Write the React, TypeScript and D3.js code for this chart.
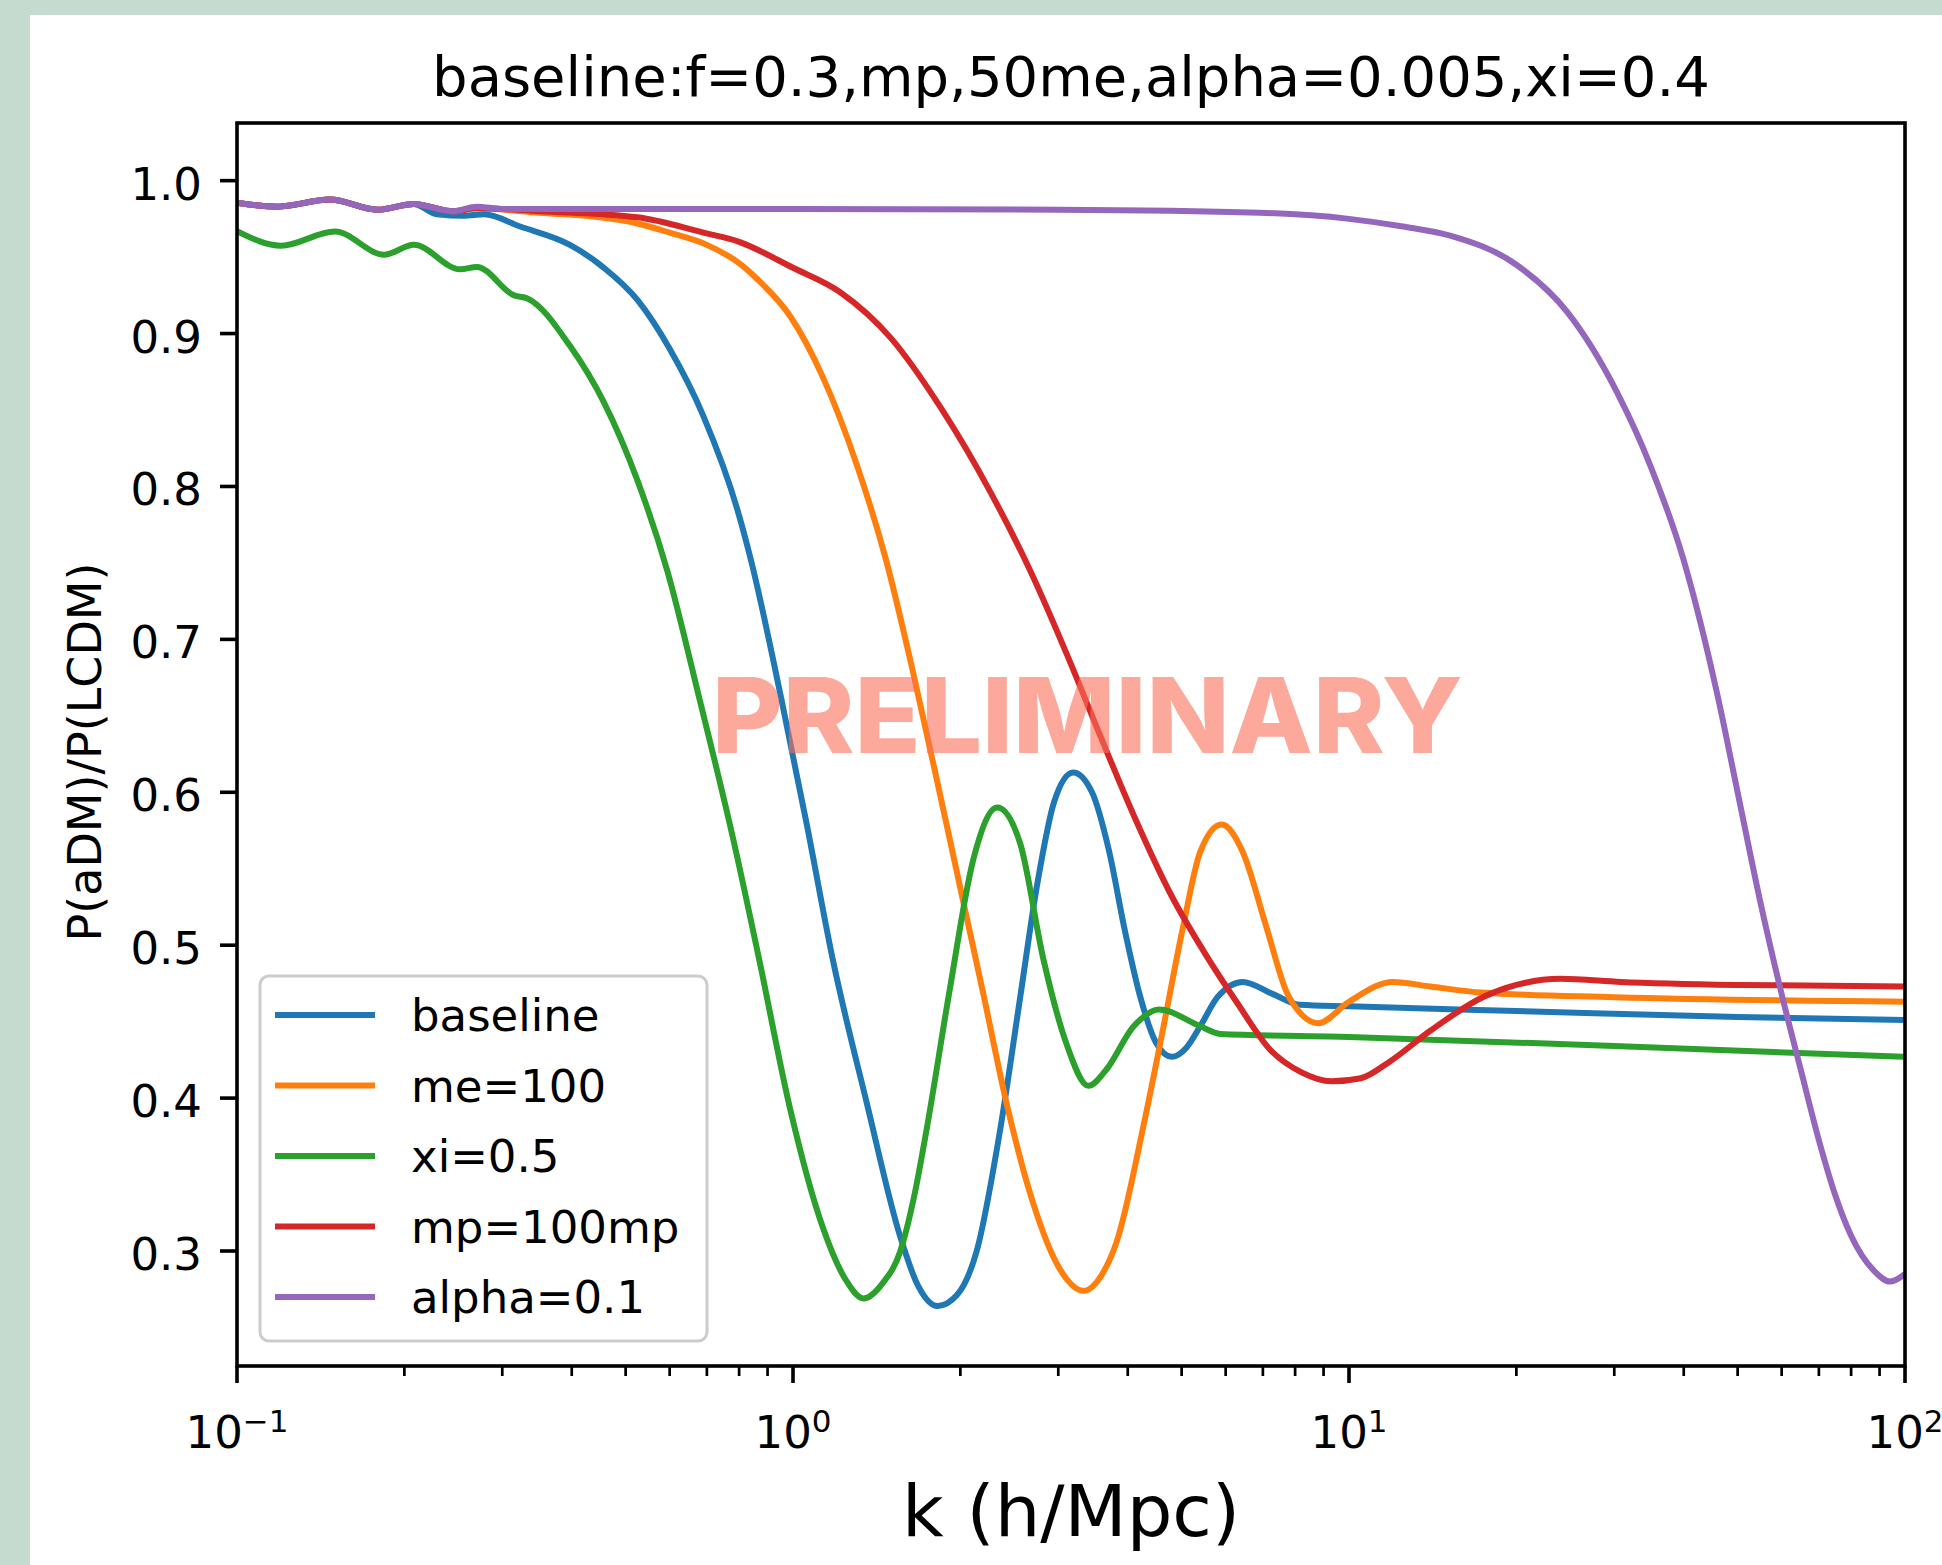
import * as d3 from "d3";

const W = 1942;
const H = 1565;
const plot = { left: 237, top: 123, right: 1905, bottom: 1366 };
const font = "DejaVu Sans, sans-serif";

type Pt = [number, number];

// x ticks (log), y ticks
const kMajor = [0.1, 1, 10, 100];
const kMajorExp = ["\u22121", "0", "1", "2"];
const yTicks = [0.3, 0.4, 0.5, 0.6, 0.7, 0.8, 0.9, 1.0];

// series as [k, P(aDM)/P(LCDM)]
const baseline: Pt[] = [
  [0.1, 0.9856], [0.118, 0.983], [0.147, 0.9876], [0.179, 0.981], [0.208, 0.9848],
  [0.229, 0.978], [0.256, 0.977], [0.278, 0.978], [0.323, 0.97], [0.397, 0.958],
  [0.457, 0.943], [0.525, 0.922], [0.6, 0.89], [0.69, 0.846], [0.794, 0.785],
  [0.84, 0.752], [0.948, 0.665], [1.06, 0.578], [1.18, 0.49], [1.357, 0.397],
  [1.557, 0.31], [1.68, 0.277], [1.82, 0.264], [1.97, 0.271], [2.14, 0.3],
  [2.36, 0.38], [2.56, 0.465], [2.75, 0.54], [2.95, 0.594], [3.19, 0.613],
  [3.45, 0.6], [3.7, 0.562], [3.95, 0.51], [4.2, 0.468], [4.5, 0.436],
  [4.8, 0.427], [5.1, 0.433], [5.4, 0.447], [5.8, 0.466], [6.44, 0.476],
  [7.3, 0.468], [8.17, 0.461], [10, 0.46], [20, 0.457], [50, 0.453], [100, 0.451],
];

const me100: Pt[] = [
  [0.1, 0.9856], [0.118, 0.983], [0.147, 0.9876], [0.179, 0.981], [0.208, 0.9848],
  [0.245, 0.98], [0.27, 0.982], [0.35, 0.979], [0.45, 0.976], [0.525, 0.972],
  [0.6, 0.966], [0.7, 0.958], [0.8, 0.946], [0.86, 0.936], [0.99, 0.911],
  [1.13, 0.872], [1.3, 0.815], [1.47, 0.752], [1.65, 0.676], [1.84, 0.598],
  [2.02, 0.53], [2.2, 0.468], [2.42, 0.397], [2.7, 0.332], [3.0, 0.29],
  [3.33, 0.274], [3.6, 0.285], [3.82, 0.306], [4.27, 0.382], [4.6, 0.44],
  [5.03, 0.512], [5.4, 0.561], [5.9, 0.579], [6.44, 0.561], [7.1, 0.512],
  [7.73, 0.469], [8.2, 0.455], [8.8, 0.449], [10, 0.463], [12, 0.476],
  [14, 0.473], [17.3, 0.469], [30, 0.466], [100, 0.463],
];

const xi05: Pt[] = [
  [0.1, 0.967], [0.12, 0.9575], [0.15, 0.9667], [0.184, 0.9516], [0.208, 0.958],
  [0.252, 0.942], [0.27, 0.9436], [0.315, 0.925], [0.333, 0.923], [0.397, 0.892],
  [0.457, 0.855], [0.525, 0.804], [0.594, 0.745], [0.68, 0.66], [0.78, 0.57],
  [0.87, 0.49], [0.988, 0.393], [1.13, 0.316], [1.24, 0.282], [1.34, 0.269],
  [1.45, 0.279], [1.56, 0.3], [1.65, 0.335], [1.74, 0.38], [1.91, 0.469],
  [2.11, 0.556], [2.33, 0.59], [2.56, 0.567], [2.82, 0.491], [3.1, 0.436],
  [3.4, 0.408], [3.65, 0.418], [4.1, 0.447], [4.55, 0.458], [5.4, 0.447],
  [5.87, 0.442], [10, 0.44], [30, 0.434], [100, 0.427],
];

const mp100: Pt[] = [
  [0.1, 0.9856], [0.118, 0.983], [0.147, 0.9876], [0.179, 0.981], [0.208, 0.9848],
  [0.245, 0.98], [0.27, 0.982], [0.35, 0.98], [0.525, 0.976], [0.69, 0.966],
  [0.8, 0.96], [1.0, 0.943], [1.216, 0.927], [1.5, 0.897], [1.84, 0.852],
  [2.26, 0.797], [2.67, 0.745], [3.11, 0.69], [3.56, 0.638], [4.1, 0.585],
  [4.8, 0.532], [5.5, 0.495], [6.3, 0.462], [7.2, 0.432], [8.2, 0.417],
  [9.3, 0.411], [10.5, 0.413], [11.85, 0.424], [14, 0.444], [17.4, 0.466],
  [20, 0.474], [24, 0.478], [30.8, 0.476], [50, 0.474], [100, 0.473],
];

const alpha01: Pt[] = [
  [0.1, 0.9856], [0.118, 0.983], [0.147, 0.9876], [0.179, 0.981], [0.208, 0.9848],
  [0.245, 0.98], [0.27, 0.983], [0.3, 0.9815], [1, 0.9815], [3, 0.981],
  [6.9, 0.979], [10, 0.975], [12.5, 0.97], [15.2, 0.964], [20, 0.945],
  [24.7, 0.914], [30.3, 0.862], [34.8, 0.814], [39.9, 0.753], [45.9, 0.665],
  [50, 0.6], [54.8, 0.53], [60, 0.468], [65, 0.418], [70.3, 0.37],
  [75, 0.336], [80, 0.31], [88, 0.287], [94, 0.28], [100, 0.285],
];

const labels = ["baseline", "me=100", "xi=0.5", "mp=100mp", "alpha=0.1"];
const colors = ["#1f77b4", "#ff7f0e", "#2ca02c", "#d62728", "#9467bd"];
const seriesData = [baseline, me100, xi05, mp100, alpha01];

export default function App() {
  const x = d3.scaleLog().domain([0.1, 100]).range([plot.left, plot.right]);
  const y = d3.scaleLinear().domain([0.2248, 1.0377]).range([plot.bottom, plot.top]);
  const line = d3
    .line<Pt>()
    .x((d) => x(d[0]))
    .y((d) => y(d[1]))
    .curve(d3.curveMonotoneX);

  const minor = d3.range(-1, 2).flatMap((e) => d3.range(2, 10).map((m) => m * Math.pow(10, e)));

  return (
    <div style={{ position: "absolute", left: 0, top: 0 }}>
      <svg width={W} height={H} style={{ display: "block" }} fontFamily={font}>
        <rect x={0} y={0} width={W} height={H} fill="#c6dbd0" />
        <rect x={30} y={15} width={W - 30} height={H - 15} fill="#ffffff" />

        <defs>
          <clipPath id="plotClip">
            <rect x={plot.left} y={plot.top} width={plot.right - plot.left} height={plot.bottom - plot.top} />
          </clipPath>
        </defs>

        <text x={1071} y={96} textAnchor="middle" fontSize={56} fill="#000">
          baseline:f=0.3,mp,50me,alpha=0.005,xi=0.4
        </text>

        <g clipPath="url(#plotClip)">
          {seriesData.map((d, i) => (
            <path key={labels[i]} d={line(d) ?? ""} fill="none" stroke={colors[i]} strokeWidth={6} strokeLinejoin="round" />
          ))}
        </g>

        {/* x ticks */}
        {minor.map((k) => (
          <line key={"m" + k} x1={x(k)} x2={x(k)} y1={plot.bottom} y2={plot.bottom + 10} stroke="#000" strokeWidth={2.7} />
        ))}
        {kMajor.map((k, i) => (
          <g key={"k" + k}>
            <line x1={x(k)} x2={x(k)} y1={plot.bottom} y2={plot.bottom + 17} stroke="#000" strokeWidth={3.6} />
            <text x={x(k)} y={1448} textAnchor="middle" fontSize={45} fill="#000">
              <tspan>10</tspan>
              <tspan fontSize={31} dy={-16}>{kMajorExp[i]}</tspan>
            </text>
          </g>
        ))}

        {/* y ticks */}
        {yTicks.map((v) => (
          <g key={"y" + v}>
            <line x1={plot.left - 17} x2={plot.left} y1={y(v)} y2={y(v)} stroke="#000" strokeWidth={3.6} />
            <text x={202} y={y(v) + 19} textAnchor="end" fontSize={45} fill="#000">
              {v.toFixed(1)}
            </text>
          </g>
        ))}

        <rect
          x={plot.left}
          y={plot.top}
          width={plot.right - plot.left}
          height={plot.bottom - plot.top}
          fill="none"
          stroke="#000"
          strokeWidth={3.6}
        />

        <text x={1071} y={1536} textAnchor="middle" fontSize={72} fill="#000">
          k (h/Mpc)
        </text>
        <text transform="translate(101,752) rotate(-90)" textAnchor="middle" fontSize={46} fill="#000">
          P(aDM)/P(LCDM)
        </text>

        {/* legend */}
        <rect x={260} y={976} width={447} height={365} rx={9} fill="#ffffff" fillOpacity={0.8} stroke="#cccccc" strokeWidth={3} />
        {labels.map((lab, i) => {
          const cy = 1015 + i * 70.5;
          return (
            <g key={"lg" + lab}>
              <line x1={275} x2={375} y1={cy} y2={cy} stroke={colors[i]} strokeWidth={6} />
              <text x={411} y={cy + 16} fontSize={45} fill="#000">
                {lab}
              </text>
            </g>
          );
        })}

        <text
          x={712}
          y={753}
          fontFamily="Inter, Roboto, sans-serif"
          fontWeight={800}
          fontSize={105}
          textLength={751}
          lengthAdjust="spacingAndGlyphs"
          fill="rgb(250,112,88)"
          fillOpacity={0.6}
        >
          PRELIMINARY
        </text>
      </svg>
    </div>
  );
}
